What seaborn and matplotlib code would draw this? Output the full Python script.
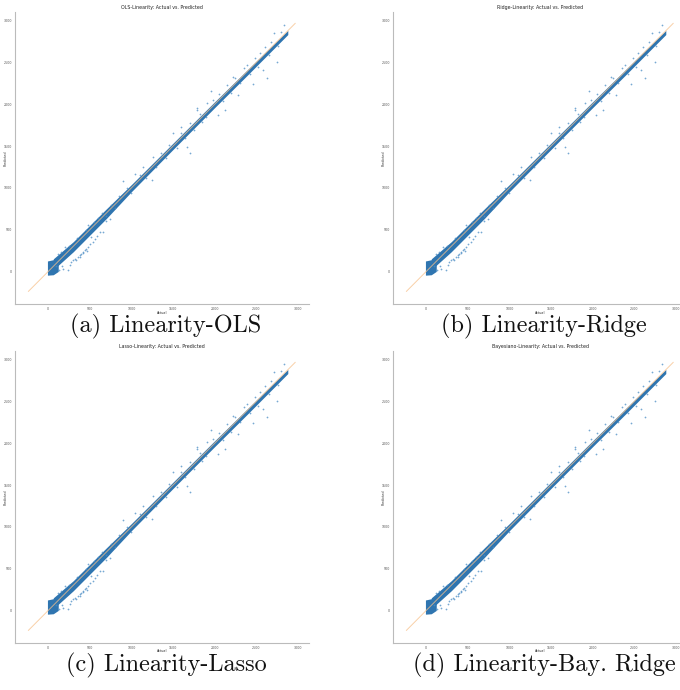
import matplotlib
matplotlib.use("Agg")
import matplotlib.pyplot as plt
import seaborn as sns
import pandas as pd

# Panel titles and captions
titles = ["OLS-Linearity: Actual vs. Predicted",
          "Ridge-Linearity: Actual vs. Predicted",
          "Lasso-Linearity: Actual vs. Predicted",
          "Bayesiano-Linearity: Actual vs. Predicted"]
captions = ["(a) Linearity-OLS", "(b) Linearity-Ridge",
            "(c) Linearity-Lasso", "(d) Linearity-Bay. Ridge"]

tick_values = [0, 500, 1000, 1500, 2000, 2500, 3000]
tick_labels = ["0", "500", "1000", "1500", "2000", "2500", "3000"]

# Reference line y = x
diag = [-240, 2970]

# Dense core of the predictions (centre band with its lower/upper edges)
band_actual = [60, 300, 700, 1000, 1500, 2000, 2400, 2880]
band_low = [20, 235, 635, 955, 1460, 1960, 2355, 2835]
band_high = [150, 355, 750, 1040, 1535, 2030, 2420, 2885]

# Cluster of small actual values
block_actual = [-10, 60, 120]
block_low = [-45, -40, 0]
block_high = [125, 140, 175]

# Individual scattered predictions
actual = [258, 278, 318, 339, 358, 378, 399, 418, 439, 459, 478, 519, 539, 559,
          300, 420, 380, 460, 500, 580, 620, 237, 177, 117, 150, 200, 478, 659,
          740, 700, 893, 1041, 1141, 1242, 1262, 1363, 1503, 1592, 1664, 1704,
          1785, 1905, 2045, 2126, 1957, 1785, 2226, 2286, 2467, 2587, 2608, 2716,
          2749, 2840, 2628, 2387, 950, 1000, 1100, 1180, 1300, 1350, 1420, 1450,
          1550, 1600, 1650, 1700, 1750, 1820, 1850, 1900, 1980, 2050, 2100, 2150,
          2200, 2250, 2300, 2350, 2420, 2480, 2520, 2550, 2650, 2680, 2760, 2800,
          600, 650, 750, 800, 850, 700, 550, 450, 350, 250, 130, 90, 160]
predicted = [72, 112, 152, 132, 172, 192, 212, 232, 252, 272, 292, 412, 352, 392,
             140, 215, 170, 250, 330, 420, 470, 12, 32, 212, 230, 290, 552, 471,
             632, 600, 1085, 1171, 1250, 1091, 1370, 1379, 1651, 1730, 1490, 1415,
             1930, 2018, 1870, 1930, 2158, 1950, 2330, 2110, 2242, 2410, 2689, 2857,
             2510, 2950, 2320, 2470, 1000, 940, 1160, 1120, 1250, 1420, 1360, 1510,
             1480, 1660, 1600, 1780, 1690, 1880, 1790, 1850, 2050, 2120, 2040, 2230,
             2140, 2320, 2250, 2430, 2360, 2560, 2450, 2620, 2590, 2750, 2700, 2870,
             640, 700, 790, 760, 900, 660, 590, 500, 400, 300, 20, 60, 70]

points = pd.DataFrame({"Actual": actual, "Predicted": predicted})
band = pd.DataFrame({"Actual": band_actual, "low": band_low, "high": band_high})
block = pd.DataFrame({"Actual": block_actual, "low": block_low, "high": block_high})

sns.set_style("white")
plt.rcParams["font.family"] = ["DejaVu Sans"]

W, H = 680, 690
fig = plt.figure(figsize=(W / 100, H / 100), dpi=100)

col_left = [15, 393]
row_top = [12, 351]
row_bottom = [304, 643]
ax_w = 294

blue = "#2f75b0"
for i, (title, cap) in enumerate(zip(titles, captions)):
    r, c = divmod(i, 2)
    ax_h = row_bottom[r] - row_top[r]
    ax = fig.add_axes([col_left[c] / W, 1 - row_bottom[r] / H,
                       ax_w / W, ax_h / H])
    ax.fill_between(band["Actual"], band["low"], band["high"],
                    color=blue, linewidth=0, zorder=2)
    ax.fill_between(block["Actual"], block["low"], block["high"],
                    color=blue, linewidth=0, zorder=2)
    sns.scatterplot(data=points, x="Actual", y="Predicted", ax=ax,
                    s=1.6, color="#4a8cc4", linewidth=0, alpha=0.75, zorder=2)
    sns.lineplot(x=diag, y=diag, ax=ax, color="#f7c08a", linewidth=0.7,
                 alpha=0.75, zorder=3)
    ax.set_xlim(-400, 3135)
    ax.set_ylim(-390, 3105)
    ax.set_xticks(tick_values)
    ax.set_xticklabels(tick_labels)
    ax.set_yticks(tick_values)
    ax.set_yticklabels(tick_labels)
    ax.tick_params(labelsize=2.3, length=1.0, width=0.3, pad=1.2,
                   colors="#555555")
    ax.set_xlabel("Actual", fontsize=2.4, color="#333333")
    ax.set_ylabel("Predicted", fontsize=2.4, color="#333333")
    ax.xaxis.set_label_coords(0.5, -6.5 / ax_h)
    ax.yaxis.set_label_coords(-7.6 / ax_w, 0.5)
    ax.set_title(title, fontsize=3.4, pad=2, color="#222222")
    sns.despine(ax=ax)
    for side in ("left", "bottom"):
        ax.spines[side].set_color("#bbbbbb")
        ax.spines[side].set_linewidth(0.8)
    cx = col_left[c] + 151
    cy = row_bottom[r] + 22
    fig.text(cx / W, 1 - cy / H, cap, ha="center", va="center",
             fontsize=17.5, family="cmr10", color="#111111")

fig.savefig("out.png", dpi=100)
